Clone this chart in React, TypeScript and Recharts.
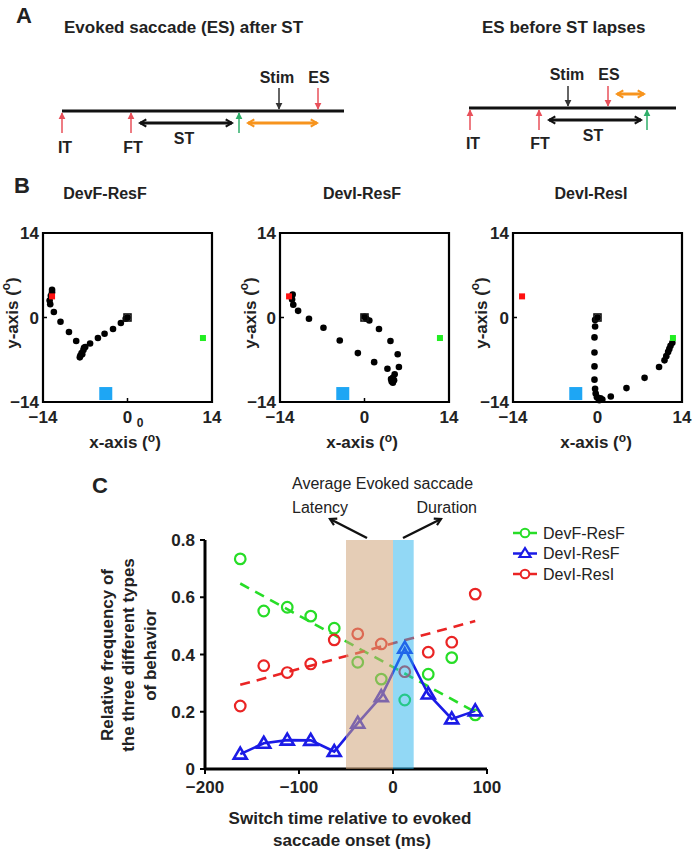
import React from "react";
import { ComposedChart, Line, ReferenceArea, Scatter, ScatterChart, XAxis, YAxis } from "recharts";

const FONT = '"Liberation Sans", Arial, Helvetica, sans-serif';

// ---- panel B: eye position samples (deg) ----
const pathDevFResF = [
  [0, 0], [-0.3, -0.2], [-1.1, -0.9], [-2.4, -1.9], [-3.8, -2.7], [-4.9, -3.4], [-6.2, -4.3],
  [-7.0, -4.9], [-7.3, -5.4], [-7.6, -5.9], [-7.8, -6.3], [-7.9, -6.6], [-7.5, -6.1], [-7.2, -5.0],
  [-8.5, -3.9], [-9.7, -2.4], [-11.1, -0.7], [-12.2, 0.9], [-12.8, 2.2], [-12.9, 2.8], [-12.7, 3.6],
  [-12.5, 4.2], [-12.5, 4.6],
];
const pathDevIResF = [
  [0, 0.1], [0.3, -0.2], [0.8, -0.5], [2.4, -1.9], [4.3, -3.9], [5.5, -6.1], [5.7, -8.2], [5.0, -9.4],
  [4.7, -10.0], [4.9, -10.4], [4.7, -10.8], [4.5, -10.6], [4.4, -10.2], [3.8, -8.5], [1.6, -7.4],
  [-1.1, -5.9], [-4.1, -3.8], [-6.8, -1.7], [-9.2, -0.2], [-11.0, 1.1], [-11.8, 2.1], [-12.0, 3.0],
  [-11.9, 3.8],
];
const pathDevIResI = [
  [0, 0], [-0.4, -0.4], [-0.4, -1.5], [-0.5, -3.3], [-0.5, -5.8], [-0.5, -8.1], [-0.5, -10.3],
  [-0.4, -11.8], [-0.3, -12.6], [-0.1, -13.2], [0.2, -13.5], [0.5, -13.4], [0.3, -13.7], [0.8, -13.6],
  [2.2, -13.1], [4.8, -11.7], [7.8, -10.0], [10.2, -8.2], [11.1, -7.1], [11.4, -6.4], [11.7, -5.7],
  [11.9, -5.2], [12.1, -4.7], [12.4, -4.2],
];
const fixationPos = [0, 0];
const initialTarget = [-12.5, 3.5];
const finalTarget = [12.5, -3.4];
const stimSite = [-3.6, -12.6];
const bTitles = ["DevF-ResF", "DevI-ResF", "DevI-ResI"];
const bTicks = [-14, 0, 14];

// ---- panel C ----
const switchTimes = [-162.5, -137.5, -112.5, -87.5, -62.5, -37.5, -12.5, 12.5, 37.5, 62.5, 87.5];
const devFResF = [0.734, 0.552, 0.565, 0.534, 0.492, 0.373, 0.314, 0.241, 0.331, 0.389, 0.189];
const devIResF = [0.052, 0.09, 0.101, 0.1, 0.061, 0.16, 0.253, 0.422, 0.262, 0.175, 0.203];
const devIResI = [0.22, 0.361, 0.337, 0.367, 0.451, 0.472, 0.437, 0.34, 0.408, 0.443, 0.611];
const fitDevFResF = [0.648, 0.199]; // at first and last switch time
const fitDevIResI = [0.294, 0.517];
const latencyBand = [-50, 0];
const durationBand = [0, 22];
const cXTicks = [-200, -100, 0, 100];
const cYTicks = [0, 0.2, 0.4, 0.6, 0.8];

const GREEN = "#27dd27";
const BLUE = "#1b1be6";
const RED = "#ea2424";

const toPts = (arr: number[][]) => arr.map(([x, y]) => ({ x, y }));
const minus = (v: number) => String(v).replace("-", "\u2212");

const last = switchTimes.length - 1;
const cData = switchTimes.map((x, i) => ({
  x,
  devFResF: devFResF[i],
  devIResF: devIResF[i],
  devIResI: devIResI[i],
  fitF: i === 0 ? fitDevFResF[0] : i === last ? fitDevFResF[1] : null,
  fitI: i === 0 ? fitDevIResI[0] : i === last ? fitDevIResI[1] : null,
}));

const square = (size: number, fill: string, stroke = "none") => (p: any) => (
  <rect x={p.cx - size / 2} y={p.cy - size / 2} width={size} height={size} fill={fill} stroke={stroke} strokeWidth={1.6} />
);

const bTick = { fill: "#222", fontSize: 17, fontWeight: "bold", fontFamily: FONT };

function TrajPlot({ left, path }: { left: number; path: number[][] }) {
  return (
    <div style={{ position: "absolute", left: left - 40, top: 223 }}>
      <ScatterChart width={219} height={209} margin={{ top: 10, right: 10, bottom: 0, left: 0 }}>
        <XAxis type="number" dataKey="x" domain={[-14, 14]} ticks={bTicks} height={30} axisLine={false}
          tickSize={-4} tickMargin={13} tickLine={{ stroke: "#000", strokeWidth: 1.5 }} tick={bTick} tickFormatter={minus} />
        <YAxis type="number" dataKey="y" domain={[-14, 14]} ticks={bTicks} width={40} axisLine={false}
          tickSize={-4} tickMargin={8} tickLine={{ stroke: "#000", strokeWidth: 1.5 }} tick={bTick} tickFormatter={minus} />
        <ReferenceArea x1={-14} x2={14} y1={-14} y2={14} fill="none" stroke="#000" strokeWidth={2.2} />
        <Scatter data={toPts([stimSite])} shape={square(13, "#1ea6f4")} isAnimationActive={false} />
        <Scatter data={toPts(path)} shape={(p: any) => <circle cx={p.cx} cy={p.cy} r={3.3} fill="#000" />} isAnimationActive={false} />
        <Scatter data={toPts([initialTarget])} shape={square(6, "#ff1010")} isAnimationActive={false} />
        <Scatter data={toPts([finalTarget])} shape={square(6, "#22ee22")} isAnimationActive={false} />
        <Scatter data={toPts([fixationPos])} shape={square(7, "none", "#111")} isAnimationActive={false} />
      </ScatterChart>
    </div>
  );
}

const bLayout = [
  { left: 43, titleX: 105, xLabX: 125, yLabX: 12, path: pathDevFResF },
  { left: 280, titleX: 362, xLabX: 362, yLabX: 250, path: pathDevIResF },
  { left: 513, titleX: 591, xLabX: 596, yLabX: 481, path: pathDevIResI },
];

const circleDot = (color: string) => (p: any) => (
  <circle key={p.index} cx={p.cx} cy={p.cy} r={5.3} fill="none" stroke={color} strokeWidth={2.2} />
);
const triDot = (p: any) => (
  <path key={p.index} d={`M${p.cx},${p.cy - 6.5} L${p.cx + 6.5},${p.cy + 4.5} L${p.cx - 6.5},${p.cy + 4.5} Z`}
    fill="none" stroke={BLUE} strokeWidth={2.6} strokeLinejoin="miter" />
);

const cTick = { fill: "#222", fontSize: 17, fontWeight: "bold", fontFamily: FONT };

function Arrow({ x1, y1, x2, y2, color, head, width = 1.5, both = false }: any) {
  return (
    <line x1={x1} y1={y1} x2={x2} y2={y2} stroke={color} strokeWidth={width}
      markerEnd={`url(#${head})`} markerStart={both ? `url(#${head})` : undefined} />
  );
}

const legendItems = [
  { name: "DevF-ResF", color: GREEN, marker: "circle" },
  { name: "DevI-ResF", color: BLUE, marker: "triangle" },
  { name: "DevI-ResI", color: RED, marker: "circle" },
];

export default function App() {
  const bold = { fontFamily: FONT, fontWeight: "bold", fill: "#222" } as const;
  return (
    <div style={{ position: "absolute", left: 0, top: 0, width: 693, height: 853, background: "#fff" }}>
      <svg width={693} height={853} style={{ position: "absolute", left: 0, top: 0 }}>
        <defs>
          {[["hRed", "#e8505a"], ["hGray", "#333"], ["hGreen", "#2fae6a"]].map(([id, c]) => (
            <marker key={id} id={id} viewBox="0 0 10 10" refX="9" refY="5" markerWidth="7" markerHeight="8"
              markerUnits="userSpaceOnUse" orient="auto">
              <path d="M0,0 L10,5 L0,10 z" fill={c} />
            </marker>
          ))}
          {[["cBlack", "#111"], ["cOrange", "#f7941d"]].map(([id, c]) => (
            <marker key={id} id={id} viewBox="0 0 10 10" refX="8" refY="5" markerWidth="9" markerHeight="10"
              markerUnits="userSpaceOnUse" orient="auto-start-reverse">
              <path d="M1,1 L8,5 L1,9" fill="none" stroke={c} strokeWidth="2.4" />
            </marker>
          ))}
        </defs>

        {/* panel A */}
        <text x={16} y={23} {...bold} fontSize={22}>A</text>
        <text x={64} y={33} {...bold} fontSize={17}>Evoked saccade (ES) after ST</text>
        <text x={482} y={33} {...bold} fontSize={17}>ES before ST lapses</text>

        <line x1={62} y1={111} x2={344} y2={111} stroke="#111" strokeWidth={3} />
        <Arrow x1={62} y1={133} x2={62} y2={113} color="#e8505a" head="hRed" />
        <Arrow x1={131} y1={133} x2={131} y2={113} color="#e8505a" head="hRed" />
        <Arrow x1={239} y1={133} x2={239} y2={113} color="#2fae6a" head="hGreen" />
        <Arrow x1={279} y1={88} x2={279} y2={109} color="#333" head="hGray" />
        <Arrow x1={318} y1={88} x2={318} y2={109} color="#e8505a" head="hRed" />
        <Arrow x1={140} y1={123} x2={232} y2={123} color="#111" head="cBlack" width={3} both />
        <Arrow x1={248} y1={123} x2={317} y2={123} color="#f7941d" head="cOrange" width={3} both />
        <text x={65} y={153} {...bold} fontSize={16} textAnchor="middle">IT</text>
        <text x={133} y={153} {...bold} fontSize={16} textAnchor="middle">FT</text>
        <text x={184} y={144} {...bold} fontSize={16} textAnchor="middle">ST</text>
        <text x={277} y={83} {...bold} fontSize={16} textAnchor="middle">Stim</text>
        <text x={319} y={83} {...bold} fontSize={16} textAnchor="middle">ES</text>

        <line x1={469} y1={108} x2={676} y2={108} stroke="#111" strokeWidth={3} />
        <Arrow x1={470} y1={130} x2={470} y2={110} color="#e8505a" head="hRed" />
        <Arrow x1={539} y1={130} x2={539} y2={110} color="#e8505a" head="hRed" />
        <Arrow x1={647} y1={130} x2={647} y2={110} color="#2fae6a" head="hGreen" />
        <Arrow x1={568} y1={86} x2={568} y2={106} color="#333" head="hGray" />
        <Arrow x1={608} y1={86} x2={608} y2={106} color="#e8505a" head="hRed" />
        <Arrow x1={549} y1={120} x2={641} y2={120} color="#111" head="cBlack" width={3} both />
        <Arrow x1={617} y1={94} x2={644} y2={94} color="#f7941d" head="cOrange" width={3} both />
        <text x={473} y={149} {...bold} fontSize={16} textAnchor="middle">IT</text>
        <text x={540} y={149} {...bold} fontSize={16} textAnchor="middle">FT</text>
        <text x={593} y={141} {...bold} fontSize={16} textAnchor="middle">ST</text>
        <text x={567} y={80} {...bold} fontSize={16} textAnchor="middle">Stim</text>
        <text x={609} y={80} {...bold} fontSize={16} textAnchor="middle">ES</text>

        {/* panel B labels */}
        <text x={14} y={193} {...bold} fontSize={22}>B</text>
        {bLayout.map((b, i) => (
          <g key={i}>
            <text x={b.titleX} y={199} {...bold} fontSize={16} textAnchor="middle">{bTitles[i]}</text>
            <text x={b.xLabX} y={448} {...bold} fontSize={17} textAnchor="middle">
              x-axis (<tspan fontSize={12} dy={-6}>o</tspan><tspan dy={6}>)</tspan>
            </text>
            <text transform={`translate(${b.yLabX},313) rotate(-90)`} {...bold} fontSize={17} textAnchor="middle" dominantBaseline="central">
              y-axis (<tspan fontSize={12} dy={-6}>o</tspan><tspan dy={6}>)</tspan>
            </text>
          </g>
        ))}
        <text x={140} y={427} {...bold} fontSize={12} textAnchor="middle">0</text>

        {/* panel C labels */}
        <text x={92} y={493} {...bold} fontSize={22}>C</text>
        <text x={292} y={489} fontFamily={FONT} fontSize={16} fill="#222">Average Evoked saccade</text>
        <text x={292} y={513} fontFamily={FONT} fontSize={16} fill="#222">Latency</text>
        <text x={477} y={513} fontFamily={FONT} fontSize={16} fill="#222" textAnchor="end">Duration</text>
        <Arrow x1={367} y1={538} x2={330} y2={519} color="#111" head="cBlack" width={2.5} />
        <Arrow x1={403} y1={538} x2={441} y2={519} color="#111" head="cBlack" width={2.5} />
        {["Relative frequency of", "the three different types", "of behavior"].map((t, i) => (
          <text key={t} transform={`translate(${107 + i * 21.5},655) rotate(-90)`} {...bold} fontSize={17}
            textAnchor="middle" dominantBaseline="central">{t}</text>
        ))}
        <text x={350} y={824} {...bold} fontSize={17} textAnchor="middle">Switch time relative to evoked</text>
        <text x={352} y={846} {...bold} fontSize={17} textAnchor="middle">saccade onset (ms)</text>

        {legendItems.map((l, i) => {
          const y = 533 + i * 20.5;
          return (
            <g key={l.name}>
              <line x1={513} y1={y} x2={537} y2={y} stroke={l.color} strokeWidth={2.5} />
              {l.marker === "circle" ? (
                <circle cx={525} cy={y} r={4.3} fill="#fff" stroke={l.color} strokeWidth={2} />
              ) : (
                <path d={`M525,${y - 5.5} L530.5,${y + 3.5} L519.5,${y + 3.5} Z`} fill="#fff" stroke={l.color} strokeWidth={2.2} />
              )}
              <text x={543} y={y} fontFamily={FONT} fontSize={16} fill="#222" dominantBaseline="central">{l.name}</text>
            </g>
          );
        })}
      </svg>

      {bLayout.map((b, i) => (
        <TrajPlot key={i} left={b.left} path={b.path} />
      ))}

      <div style={{ position: "absolute", left: 145, top: 520 }}>
        <ComposedChart width={357} height={289} data={cData} margin={{ top: 20, right: 15, bottom: 0, left: 0 }}>
          <XAxis type="number" dataKey="x" domain={[-200, 100]} ticks={cXTicks} height={40}
            axisLine={{ stroke: "#000", strokeWidth: 3 }} tickLine={{ stroke: "#000", strokeWidth: 2 }}
            tickSize={5} tickMargin={7} tick={cTick} tickFormatter={minus} />
          <YAxis type="number" domain={[0, 0.8]} ticks={cYTicks} width={60}
            axisLine={{ stroke: "#000", strokeWidth: 3 }} tickLine={{ stroke: "#000", strokeWidth: 2 }}
            tickSize={5} tickMargin={5} tick={cTick} />
          <Line dataKey="fitF" stroke={GREEN} strokeWidth={2.6} strokeDasharray="10 7" dot={false} connectNulls isAnimationActive={false} />
          <Line dataKey="fitI" stroke={RED} strokeWidth={2.6} strokeDasharray="10 7" dot={false} connectNulls isAnimationActive={false} />
          <Line dataKey="devFResF" stroke="none" strokeWidth={0} dot={circleDot(GREEN)} activeDot={false} isAnimationActive={false} />
          <Line dataKey="devIResI" stroke="none" strokeWidth={0} dot={circleDot(RED)} activeDot={false} isAnimationActive={false} />
          <Line dataKey="devIResF" stroke={BLUE} strokeWidth={2.6} dot={triDot} activeDot={false} isAnimationActive={false} />
          <ReferenceArea x1={latencyBand[0]} x2={latencyBand[1]} y1={0} y2={0.8} fill="#cfa47a" fillOpacity={0.55} zIndex={1000} />
          <ReferenceArea x1={durationBand[0]} x2={durationBand[1]} y1={0} y2={0.8} fill="#26b2ec" fillOpacity={0.5} zIndex={1000} />
        </ComposedChart>
      </div>
    </div>
  );
}
